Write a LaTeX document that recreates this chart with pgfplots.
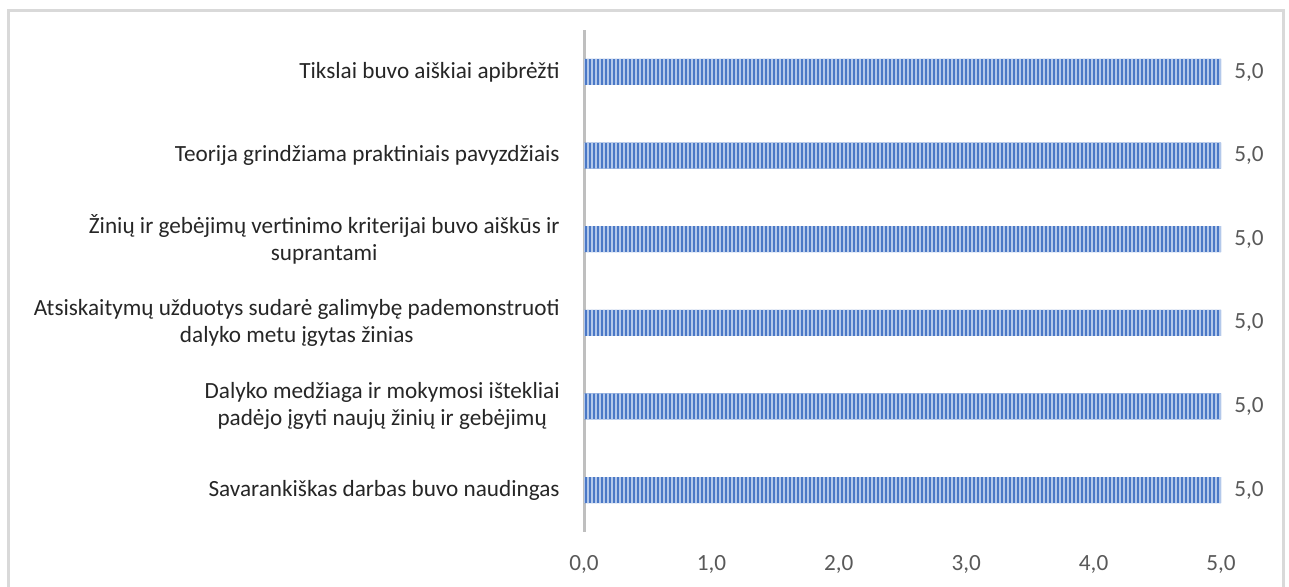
\documentclass[border=0pt]{standalone}
\usepackage{fontspec}
\setmainfont{Carlito}
\usepackage{pgfplots}
\pgfplotsset{compat=1.18}
\usetikzlibrary{patterns.meta}
\definecolor{barblue}{HTML}{4A78C6}
\definecolor{stripe}{HTML}{B3C8EA}
\definecolor{axisgray}{HTML}{BFBFBF}
\definecolor{labeltext}{HTML}{262626}
\definecolor{ticktext}{HTML}{595959}
\definecolor{framegray}{HTML}{D9D9D9}
\begin{document}
\begin{tikzpicture}[font=\fontsize{11.6}{13.5}\selectfont]
\clip (0,0) rectangle (644.5pt,-293.5pt);
\draw[framegray, line width=1.5pt] (4.25pt,-5.5pt) rectangle (641.75pt,-320pt);
\begin{axis}[
  at={(292pt,-265.9pt)}, anchor=south west,
  scale only axis, width=318.5pt, height=250.8pt,
  xmin=0, xmax=5, ymin=-0.5, ymax=5.5,
  xbar, bar width=13pt, bar shift=0pt,
  axis x line=bottom, axis y line=left,
  x axis line style={draw=none},
  y axis line style={draw=axisgray, line width=1.5pt, -},
  major tick length=0pt,
  xtick={0,1,2,3,4,5},
  ytick={0,1,2,3,4,5},
  yticklabels={
    {Savarankiškas darbas buvo naudingas},
    {Dalyko medžiaga ir mokymosi ištekliai\\padėjo įgyti naujų žinių ir gebėjimų\ },
    {Atsiskaitymų užduotys sudarė galimybę pademonstruoti\\dalyko metu įgytas žinias},
    {Žinių ir gebėjimų vertinimo kriterijai buvo aiškūs ir\\suprantami},
    {Teorija grindžiama praktiniais pavyzdžiais},
    {Tikslai buvo aiškiai apibrėžti}},
  yticklabel style={align=center, text=labeltext, anchor=east, inner sep=0pt, xshift=-12pt, font=\fontsize{11.6}{13.5}\selectfont},
  xticklabel style={text=ticktext, anchor=north, inner sep=0pt, yshift=-11.5pt, font=\fontsize{11.6}{13.5}\selectfont,
    /pgf/number format/.cd, fixed, fixed zerofill, precision=1, use comma, assume math mode=true},
  point meta=x,
  nodes near coords={\pgfmathprintnumber[fixed, fixed zerofill, precision=1, use comma, assume math mode=true]{\pgfplotspointmeta}},
  nodes near coords style={text=ticktext, anchor=west, inner sep=0pt, xshift=6.5pt, font=\fontsize{11.6}{13.5}\selectfont},
  clip=false,
]
\addplot[fill=barblue, draw=none,
  postaction={pattern={Lines[angle=90,distance=2pt,line width=0.7pt]}, pattern color=stripe}]
  coordinates {(5,0) (5,1) (5,2) (5,3) (5,4) (5,5)};
\end{axis}
\end{tikzpicture}
\end{document}
